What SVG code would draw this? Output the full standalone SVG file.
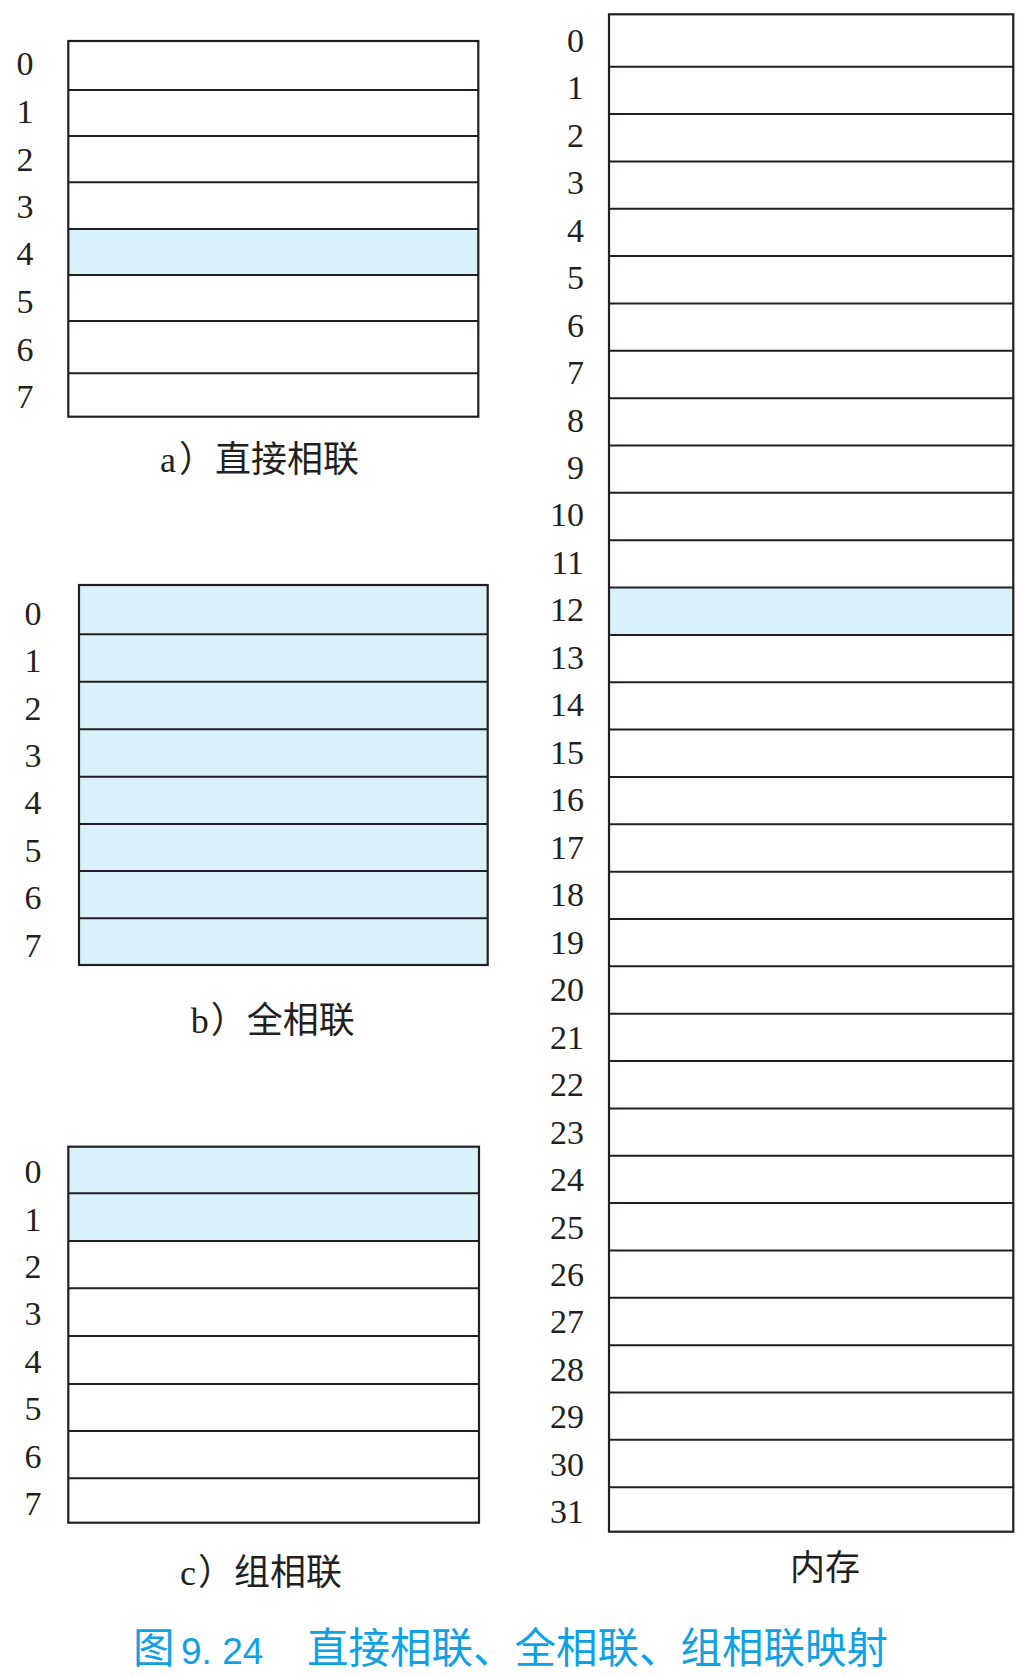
<svg xmlns="http://www.w3.org/2000/svg" width="1027" height="1676" viewBox="0 0 1027 1676">
<style>
.bg{fill:#ffffff}
.hl{fill:#d8f0fa;stroke:none}
.ln{stroke:#231f20;stroke-width:2;fill:none}
.box{stroke:#231f20;stroke-width:2.2;fill:none}
.num{font-family:"Liberation Serif","Times New Roman",serif;font-size:34px;fill:#231f20}
.cap{font-family:"Liberation Serif","Noto Sans CJK SC",serif;font-size:36px;fill:#231f20}
.ttl{font-family:"Noto Sans CJK SC",sans-serif;font-size:41.5px;fill:#10a0e4}
.ttn{font-family:"Liberation Sans","Noto Sans CJK SC",sans-serif;font-size:37px;fill:#10a0e4}
</style>
<rect class="bg" x="0" y="0" width="1027" height="1676"/>

<g id="cache-direct">
<rect class="hl" x="68.3" y="229" width="410" height="46"/>
<path class="ln" d="M68.3 90H478.3M68.3 136H478.3M68.3 182.3H478.3M68.3 229H478.3M68.3 275H478.3M68.3 321H478.3M68.3 373.3H478.3"/>
<rect class="box" x="68.3" y="41" width="410" height="375.7"/>
<g class="num" text-anchor="middle">
<text x="25" y="75">0</text><text x="25" y="122.7">1</text><text x="25" y="170.7">2</text><text x="25" y="218">3</text>
<text x="25" y="265">4</text><text x="25" y="312.7">5</text><text x="25" y="360.7">6</text><text x="25" y="407.7">7</text>
</g>
<text class="cap" x="160" y="472">a<tspan dx="3">）</tspan>直接相联</text>
</g>

<g id="cache-full">
<rect class="hl" x="79" y="585" width="408.7" height="380"/>
<path class="ln" d="M79 634.3H487.7M79 681.7H487.7M79 729.3H487.7M79 776.7H487.7M79 824H487.7M79 871H487.7M79 918.3H487.7"/>
<rect class="box" x="79" y="585" width="408.7" height="380"/>
<g class="num" text-anchor="middle">
<text x="33" y="625">0</text><text x="33" y="672">1</text><text x="33" y="720">2</text><text x="33" y="767">3</text>
<text x="33" y="814.3">4</text><text x="33" y="861.7">5</text><text x="33" y="909.3">6</text><text x="33" y="956.7">7</text>
</g>
<text class="cap" x="190.7" y="1032.7">b<tspan dx="2">）</tspan>全相联</text>
</g>

<g id="cache-set">
<rect class="hl" x="68.3" y="1146.7" width="410.7" height="94.3"/>
<path class="ln" d="M68.3 1193.3H479M68.3 1241H479M68.3 1288.3H479M68.3 1336H479M68.3 1384H479M68.3 1431H479M68.3 1478.3H479"/>
<rect class="box" x="68.3" y="1146.7" width="410.7" height="376"/>
<g class="num" text-anchor="middle">
<text x="33" y="1183.3">0</text><text x="33" y="1230.7">1</text><text x="33" y="1278.3">2</text><text x="33" y="1325">3</text>
<text x="33" y="1373.3">4</text><text x="33" y="1420">5</text><text x="33" y="1467.7">6</text><text x="33" y="1515">7</text>
</g>
<text class="cap" x="180" y="1585">c<tspan dx="2">）</tspan>组相联</text>
</g>

<g id="memory">
<rect class="hl" x="609" y="587.55" width="404.3" height="47.35"/>
<path class="ln" d="M609 66.7H1013.3M609 114.05H1013.3M609 161.4H1013.3M609 208.75H1013.3M609 256.1H1013.3M609 303.45H1013.3M609 350.8H1013.3M609 398.15H1013.3M609 445.5H1013.3M609 492.85H1013.3M609 540.2H1013.3M609 587.55H1013.3M609 634.9H1013.3M609 682.25H1013.3M609 729.6H1013.3M609 776.95H1013.3M609 824.3H1013.3M609 871.65H1013.3M609 919H1013.3M609 966.35H1013.3M609 1013.7H1013.3M609 1061.05H1013.3M609 1108.4H1013.3M609 1155.75H1013.3M609 1203.1H1013.3M609 1250.45H1013.3M609 1297.8H1013.3M609 1345.15H1013.3M609 1392.5H1013.3M609 1439.85H1013.3M609 1487.2H1013.3"/>
<rect class="box" x="609" y="14.3" width="404.3" height="1517.4"/>
<g class="num" text-anchor="end">
<text x="584" y="51.7">0</text><text x="584" y="99.2">1</text><text x="584" y="146.6">2</text><text x="584" y="194.1">3</text>
<text x="584" y="241.6">4</text><text x="584" y="289.1">5</text><text x="584" y="336.5">6</text><text x="584" y="384">7</text>
<text x="584" y="431.5">8</text><text x="584" y="478.9">9</text><text x="584" y="526.4">10</text><text x="584" y="573.9">11</text>
<text x="584" y="621.3">12</text><text x="584" y="668.8">13</text><text x="584" y="716.3">14</text><text x="584" y="763.8">15</text>
<text x="584" y="811.2">16</text><text x="584" y="858.7">17</text><text x="584" y="906.2">18</text><text x="584" y="953.6">19</text>
<text x="584" y="1001.1">20</text><text x="584" y="1048.6">21</text><text x="584" y="1096">22</text><text x="584" y="1143.5">23</text>
<text x="584" y="1191">24</text><text x="584" y="1238.5">25</text><text x="584" y="1285.9">26</text><text x="584" y="1333.4">27</text>
<text x="584" y="1380.9">28</text><text x="584" y="1428.3">29</text><text x="584" y="1475.8">30</text><text x="584" y="1523.3">31</text>
</g>
<text class="cap" x="790" y="1580" style="font-size:35px">内存</text>
</g>

<g id="title">
<text class="ttl" x="133" y="1663">图</text>
<text class="ttn" x="181" y="1664">9. 24</text>
<text class="ttl" x="307" y="1663">直接相联、全相联、组相联映射</text>
</g>
</svg>
